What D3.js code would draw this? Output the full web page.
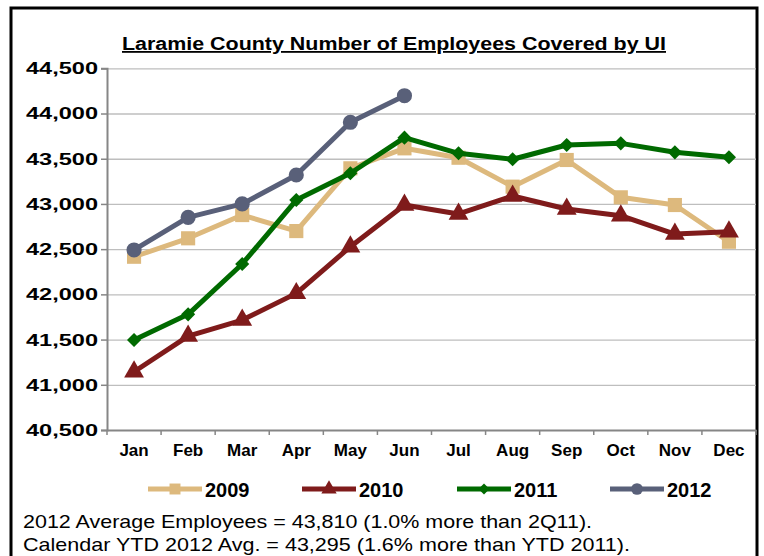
<!DOCTYPE html>
<html><head><meta charset="utf-8">
<script src="https://cdn.jsdelivr.net/npm/d3@7"></script>
<style>
html,body{margin:0;padding:0;background:#fff;}
svg{display:block;font-family:"Liberation Sans",Arial,sans-serif;}
</style></head>
<body>
<svg id="chart" width="764" height="556"></svg>
<script>
const months = ["Jan","Feb","Mar","Apr","May","Jun","Jul","Aug","Sep","Oct","Nov","Dec"];
const years = ["2009","2010","2011","2012"];
const values2009 = [42416,42620,42877,42700,43394,43615,43511,43191,43486,43073,42988,42582];
const values2010 = [41144,41539,41716,42011,42527,42988,42889,43088,42944,42870,42667,42693];
const values2011 = [41495,41779,42336,43043,43339,43733,43560,43494,43652,43670,43571,43516];
const values2012 = [42491,42852,43000,43320,43903,44197];
const yTicks = [40500,41000,41500,42000,42500,43000,43500,44000,44500];
const title = "Laramie County Number of Employees Covered by UI";
const notes = ["2012 Average Employees = 43,810 (1.0% more than 2Q11).",
               "Calendar YTD 2012 Avg. = 43,295 (1.6% more than YTD 2011)."];

const seriesValues = [values2009, values2010, values2011, values2012];
const colors = ["#DDB97D","#7F1B1B","#006A00","#596079"];
const shapes = [d3.symbolSquare, d3.symbolTriangle, d3.symbolSquare, d3.symbolCircle];
const rotations = [0, 0, 45, 0];
const sizes = [200, 170, 100, 180];

const svg = d3.select("#chart");
const L = 107, R = 756, T = 68.3, B = 430;

svg.append("rect").attr("x",11).attr("y",8).attr("width",746).attr("height",600)
  .attr("fill","none").attr("stroke","#000").attr("stroke-width",3);

const x = d3.scaleBand().domain(months).range([L,R]);
const y = d3.scaleLinear().domain([40500,44500]).range([B,T]);

// gridlines
svg.append("g").attr("transform",`translate(${L},0)`)
  .call(d3.axisLeft(y).tickValues(yTicks.slice(1)).tickSize(-(R-L)).tickFormat(""))
  .call(g=>g.select(".domain").remove())
  .call(g=>g.selectAll("line").attr("stroke","#BEBEBE").attr("stroke-width",1.3));

// y axis
const ya = svg.append("g").attr("transform",`translate(${L},0)`)
  .call(d3.axisLeft(y).tickValues(yTicks).tickSize(6).tickPadding(3).tickFormat(d3.format(",")));
ya.select(".domain").attr("stroke","#868686").attr("stroke-width",2);
ya.selectAll(".tick line").attr("stroke","#868686").attr("stroke-width",1.5);
ya.selectAll("text").attr("font-size",17).attr("font-weight","bold").attr("fill","#000")
  .attr("font-family","Liberation Sans, Arial, sans-serif")
  .attr("textLength",72).attr("lengthAdjust","spacingAndGlyphs");

// x axis
const xa = svg.append("g").attr("transform",`translate(0,${B})`)
  .call(d3.axisBottom(x).tickSize(0).tickPadding(14));
xa.select(".domain").attr("stroke","#868686").attr("stroke-width",2);
xa.selectAll("text").attr("font-size",17).attr("font-weight","bold").attr("fill","#000")
  .attr("font-family","Liberation Sans, Arial, sans-serif");
const bounds = months.map(m=>x(m)).concat([R]);
svg.append("g").selectAll("line").data(bounds).join("line")
  .attr("x1",d=>d).attr("x2",d=>d).attr("y1",B).attr("y2",B+5)
  .attr("stroke","#868686").attr("stroke-width",1.5);

const cx = m => x(m) + x.bandwidth()/2;
const line = d3.line().x((d,i)=>cx(months[i])).y(d=>y(d));

seriesValues.forEach((vals,k)=>{
  const g = svg.append("g");
  g.append("path").datum(vals).attr("d",line).attr("fill","none")
    .attr("stroke",colors[k]).attr("stroke-width",5).attr("stroke-linejoin","round");
  g.selectAll("path.m").data(vals).join("path").attr("class","m")
    .attr("transform",(d,i)=>`translate(${cx(months[i])},${y(d)}) rotate(${rotations[k]})`)
    .attr("d",d3.symbol().type(shapes[k]).size(sizes[k]))
    .attr("fill",colors[k]);
});

// title
svg.append("text").attr("x",394).attr("y",50).attr("text-anchor","middle")
  .attr("font-size",18).attr("font-weight","bold").attr("text-decoration","underline")
  .attr("textLength",544).attr("lengthAdjust","spacingAndGlyphs").text(title);

// legend
const legX = [148, 302, 457, 610];
years.forEach((yr,k)=>{
  const g = svg.append("g").attr("transform",`translate(${legX[k]},489)`);
  g.append("line").attr("x1",0).attr("x2",54).attr("stroke",colors[k]).attr("stroke-width",5);
  g.append("path").attr("transform",`translate(27,0) rotate(${rotations[k]})`)
    .attr("d",d3.symbol().type(shapes[k]).size(sizes[k]*0.6)).attr("fill",colors[k]);
  g.append("text").attr("x",57).attr("y",7.5).attr("font-size",20).attr("font-weight","bold").text(yr);
});

// notes
notes.forEach((t,i)=>{
  svg.append("text").attr("x",23).attr("y",528+i*23).attr("font-size",19)
    .attr("textLength",i===0?569:607).attr("lengthAdjust","spacingAndGlyphs").text(t);
});
</script>
</body></html>
